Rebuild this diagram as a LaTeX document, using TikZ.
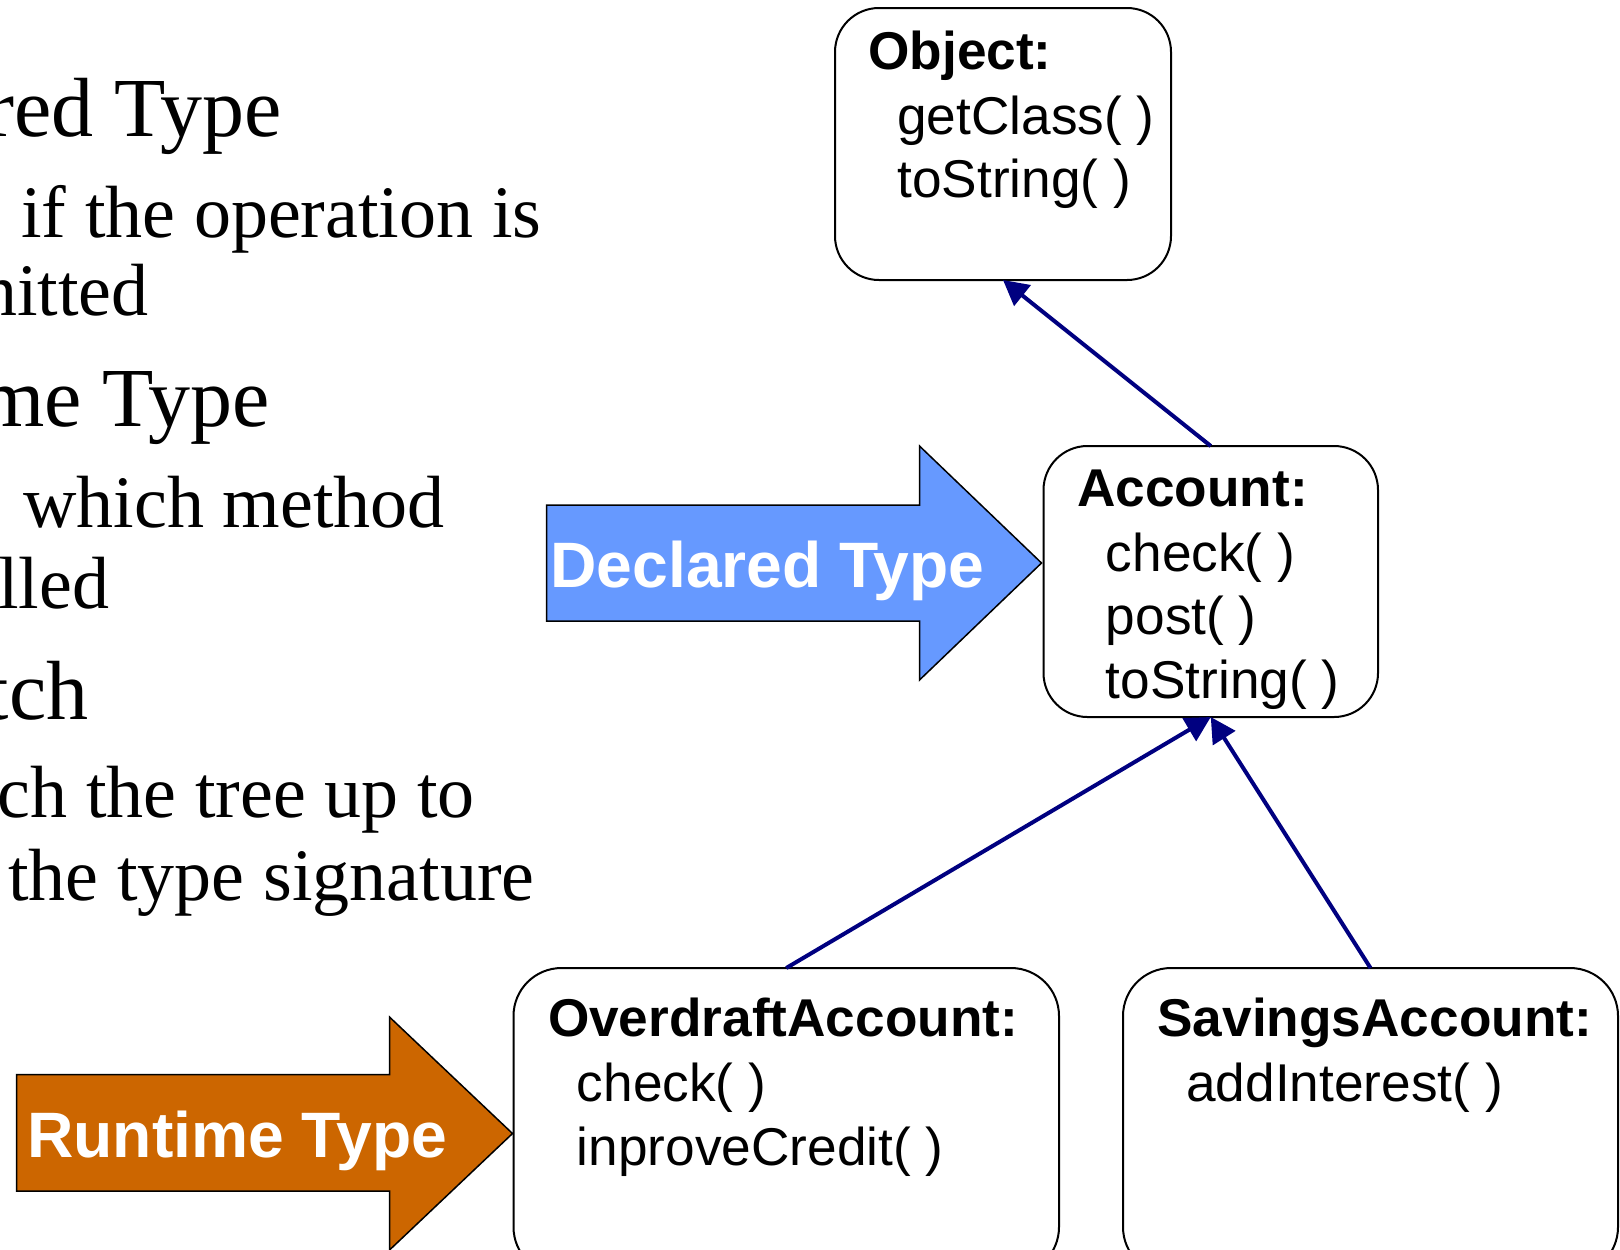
\documentclass[tikz,border=0pt]{standalone}
\usepackage{fontspec}
\setmainfont{Liberation Serif}
\setsansfont{Liberation Sans}
\usetikzlibrary{arrows.meta}
\definecolor{declblue}{HTML}{6699FF}
\definecolor{runorange}{HTML}{CC6600}
\definecolor{linknavy}{HTML}{000080}
\begin{document}
\begin{tikzpicture}[x=0.5pt,y=-0.5pt,
  classbox/.style={draw=black,line width=1pt,rounded corners=22pt,fill=white,inner sep=0pt,outer sep=0pt},
  title/.style={anchor=base west,inner sep=0pt,font=\sffamily\bfseries\fontsize{26.6}{32}\selectfont},
  method/.style={anchor=base west,inner sep=0pt,font=\sffamily\fontsize{26.6}{32}\selectfont},
  inherit/.style={draw=linknavy,line width=2pt,-{Triangle[length=12.5pt,width=13pt]}},
  bigarrow/.style={draw=black,line width=0.75pt},
  arrowlabel/.style={anchor=base west,inner sep=0pt,text=white,font=\sffamily\bfseries\fontsize{32.1}{38}\selectfont},
  headline/.style={inner sep=0pt,font=\fontsize{42}{50}\selectfont},
  subline/.style={inner sep=0pt,font=\fontsize{37}{44}\selectfont}]
\useasboundingbox (0,0) rectangle (1620,1249);
\clip (0,0) rectangle (1620,1249);

% bullet text running in from the left edge
\node[headline, anchor=base east] (h1) at (282,136) {red Type};
\node[subline, anchor=base west] (s1) at (21,237) {if the operation is};
\node[subline, anchor=base east] (s2) at (149,315) {nitted};
\node[headline, anchor=base east] (h2) at (270,426.5) {me Type};
\node[subline, anchor=base west] (s3) at (23,527) {which method};
\node[subline, anchor=base east] (s4) at (109.5,608) {lled};
\node[headline, anchor=base east] (h3) at (89,719) {tch};
\node[subline, anchor=base east] (s5) at (475,817) {ch the tree up to};
\node[subline, anchor=base west] (s6) at (8,900) {the type signature};

% class boxes
\node[classbox, minimum width=168pt, minimum height=136pt] (obj) at (1003,144) {};
\node[title] (objT) at (868,69) {Object:};
\node[method] (objM1) at (897,134) {getClass( )};
\node[method] (objM2) at (897,197) {toString( )};

\node[classbox, minimum width=167.25pt, minimum height=135.5pt] (acct) at (1210.75,581.5) {};
\node[title] (acctT) at (1077,506) {Account:};
\node[method] (acctM1) at (1105.5,571) {check( )};
\node[method] (acctM2) at (1105.5,634) {post( )};
\node[method] (acctM3) at (1105.5,698) {toString( )};

\node[classbox, rounded corners=24pt, minimum width=272.75pt, minimum height=153.5pt] (over) at (786.25,1121.5) {};
\node[title] (overT) at (547.6,1036) {OverdraftAccount:};
\node[method] (overM1) at (576.5,1101) {check( )};
\node[method] (overM2) at (576.5,1165.5) {inproveCredit( )};

\node[classbox, rounded corners=24pt, minimum width=247.5pt, minimum height=153.5pt] (sav) at (1370.5,1121.5) {};
\node[title] (savT) at (1157,1036) {SavingsAccount:};
\node[method] (savM1) at (1186,1101) {addInterest( )};

% inheritance links
\draw[inherit] (acct.north) -- (obj.south);
\draw[inherit] (over.north) -- (acct.south);
\draw[inherit] (sav.north) -- (acct.south);

% block arrows
\draw[bigarrow, fill=declblue] (546.5,505) -- (919.5,505) -- (919.5,446) -- (1041.5,563)
  -- (919.5,680) -- (919.5,621) -- (546.5,621) -- cycle;
\node[arrowlabel] (declLbl) at (550,587) {Declared Type};

\draw[bigarrow, fill=runorange] (16.5,1074.5) -- (389.5,1074.5) -- (389.5,1017) -- (512.5,1133.5)
  -- (389.5,1250) -- (389.5,1191) -- (16.5,1191) -- cycle;
\node[arrowlabel] (runLbl) at (27,1157) {Runtime Type};
\end{tikzpicture}
\end{document}
